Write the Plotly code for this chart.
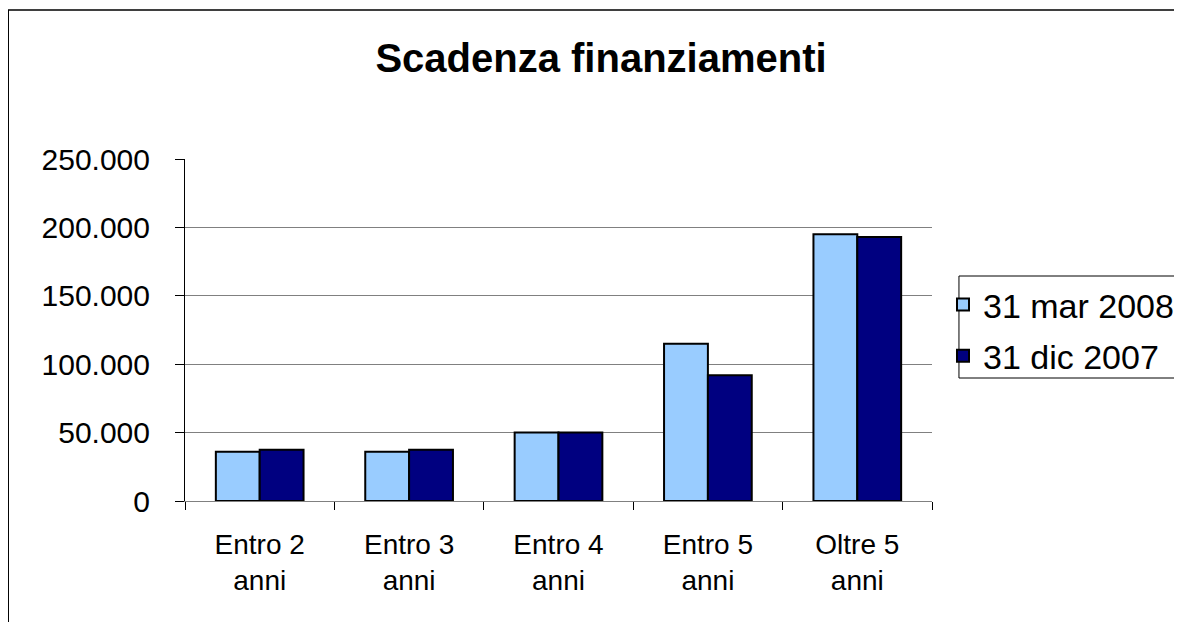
import plotly.graph_objects as go

categories = ["Entro 2<br>anni", "Entro 3<br>anni", "Entro 4<br>anni", "Entro 5<br>anni", "Oltre 5<br>anni"]
mar_2008 = [36000, 36000, 50000, 115000, 195000]
dic_2007 = [37500, 37500, 50000, 92000, 193000]
series_names = ["31 mar 2008", "31 dic 2007"]
y_tickvals = [0, 50000, 100000, 150000, 200000, 250000]
y_ticktext = ["0", "50.000", "100.000", "150.000", "200.000", "250.000"]

FONT = "Liberation Sans, Arial, sans-serif"

# page body has an 8px margin; work in reference-screen pixels and offset
OFF = 8
W, H = 1182, 622
L, T = 185 - OFF, 159 - OFF
PW, PH = 748, 342
R = W - L - PW
B = H - T - PH


def px_x(px):
    return (px - OFF - L) / PW


def px_y(py):
    return (T + PH - (py - OFF)) / PH


fig = go.Figure()
fig.add_trace(go.Bar(x=categories, y=mar_2008, name=series_names[0], legendgroup="a",
                     marker=dict(color="#99CCFF", line=dict(color="#000000", width=2))))
fig.add_trace(go.Bar(x=categories, y=dic_2007, name=series_names[1], legendgroup="b",
                     marker=dict(color="#000080", line=dict(color="#000000", width=2))))

fig.update_layout(
    width=W, height=H,
    margin=dict(l=L, r=R, t=T, b=B, pad=0),
    paper_bgcolor="white", plot_bgcolor="white",
    font=dict(family=FONT, color="black", size=28),
    barmode="group", bargap=0.413, bargroupgap=0,
    title=dict(text="<b>Scadenza finanziamenti</b>", x=(601 - OFF) / W, xref="container",
               xanchor="center", y=1 - (58 - OFF) / H, yref="container", yanchor="middle",
               font=dict(family=FONT, size=40, color="black")),
    legend=dict(x=px_x(943), y=px_y(276), xanchor="left", yanchor="top",
                bgcolor="rgba(0,0,0,0)", borderwidth=0,
                font=dict(family=FONT, size=34, color="black"),
                itemwidth=30, tracegroupgap=4),
    xaxis=dict(type="category", showgrid=False, showline=True, linecolor="#808080",
               linewidth=1, ticks="outside", tickson="boundaries", ticklen=8,
               tickcolor="#000000", ticklabelstandoff=18,
               tickfont=dict(family=FONT, size=28, color="black"),
               range=[-0.5, 4.5]),
    yaxis=dict(range=[0, 250000], tickvals=y_tickvals, ticktext=y_ticktext,
               showgrid=True, gridcolor="#808080", gridwidth=1,
               showline=True, linecolor="#000000", linewidth=1,
               ticks="outside", ticklen=9, tickcolor="#000000",
               ticklabelstandoff=19,
               tickfont=dict(family=FONT, size=30, color="black"), zeroline=False),
    shapes=[
        dict(type="rect", xref="paper", yref="paper",
             x0=px_x(8), x1=px_x(1200), y0=px_y(640), y1=px_y(10),
             line=dict(color="black", width=1.5), fillcolor="rgba(0,0,0,0)",
             layer="below"),
        dict(type="rect", xref="paper", yref="paper",
             x0=px_x(960), x1=px_x(1200), y0=px_y(378), y1=px_y(276),
             line=dict(color="black", width=1), fillcolor="white",
             layer="below"),
    ],
)

fig.write_html("out.html")
